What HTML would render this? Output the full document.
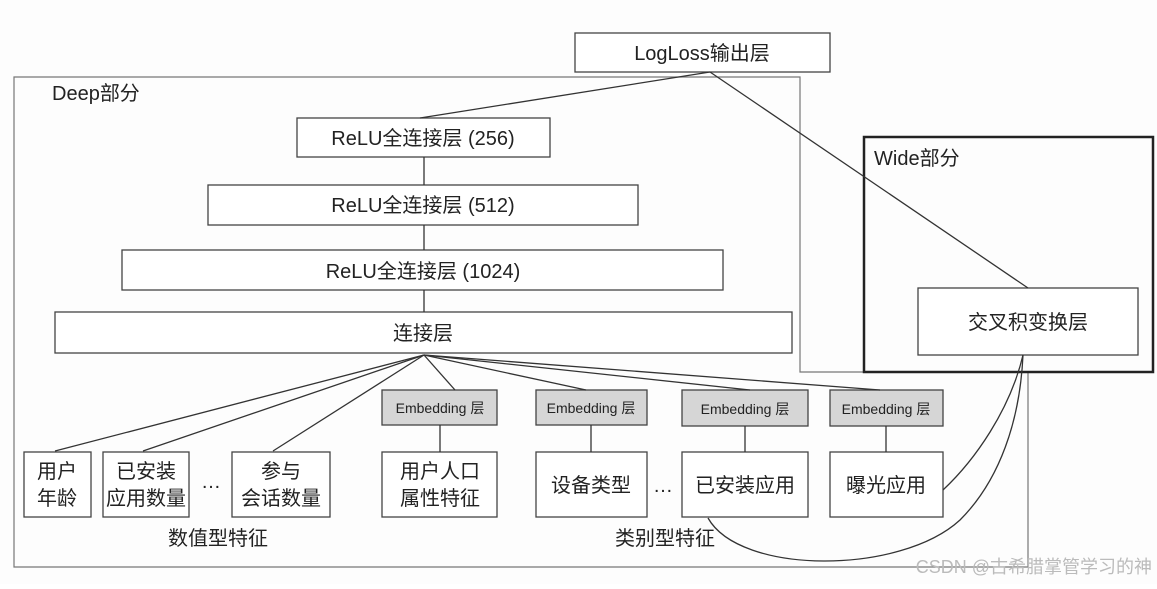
<!DOCTYPE html>
<html><head><meta charset="utf-8"><style>
body{margin:0;background:#fff;}
svg text{font-family:"Liberation Sans","Noto Sans CJK SC",sans-serif;fill:#222;}
</style></head><body>
<svg width="1157" height="584" viewBox="0 0 1157 584" xmlns="http://www.w3.org/2000/svg">
<rect width="1157" height="584" fill="#fdfdfd"/>
<g fill="none" stroke="#777" stroke-width="1.2">
<path d="M14 77 H800 V372 H1028 V567 H14 Z"/>
</g>
<rect x="864" y="137" width="289" height="235" fill="none" stroke="#222" stroke-width="2.5"/>
<g fill="#fff" stroke="#444" stroke-width="1.3">
<rect x="575" y="33" width="255" height="39"/>
<rect x="297" y="118" width="253" height="39"/>
<rect x="208" y="185" width="430" height="40"/>
<rect x="122" y="250" width="601" height="40"/>
<rect x="55" y="312" width="737" height="41"/>
<rect x="918" y="288" width="220" height="67"/>
<rect x="24" y="452" width="67" height="65"/>
<rect x="103" y="452" width="86" height="65"/>
<rect x="232" y="452" width="98" height="65"/>
<rect x="382" y="452" width="115" height="65"/>
<rect x="536" y="452" width="111" height="65"/>
<rect x="682" y="452" width="126" height="65"/>
<rect x="830" y="452" width="113" height="65"/>
</g>
<g fill="#d6d6d6" stroke="#444" stroke-width="1.3">
<rect x="382" y="390" width="115" height="35"/>
<rect x="536" y="390" width="111" height="35"/>
<rect x="682" y="390" width="126" height="36"/>
<rect x="830" y="390" width="113" height="36"/>
</g>
<g fill="none" stroke="#333" stroke-width="1.3">
<line x1="710" y1="72" x2="420" y2="118"/>
<line x1="710" y1="72" x2="1028" y2="288"/>
<line x1="424" y1="157" x2="424" y2="185"/>
<line x1="424" y1="225" x2="424" y2="250"/>
<line x1="424" y1="290" x2="424" y2="312"/>
<line x1="424" y1="355" x2="55" y2="451"/>
<line x1="424" y1="355" x2="143" y2="451"/>
<line x1="424" y1="355" x2="273" y2="451"/>
<line x1="424" y1="355" x2="455" y2="390"/>
<line x1="424" y1="355" x2="586" y2="390"/>
<line x1="424" y1="355" x2="750" y2="390"/>
<line x1="424" y1="355" x2="880" y2="390"/>
<line x1="440" y1="425" x2="440" y2="452"/>
<line x1="591" y1="425" x2="591" y2="452"/>
<line x1="745" y1="426" x2="745" y2="452"/>
<line x1="886" y1="426" x2="886" y2="452"/>
<path d="M708 518 C740 575 900 575 960 520 C1000 480 1020 420 1023 355"/>
<path d="M943 490 C975 460 1010 410 1023 355"/>
</g>
<g font-size="20" text-anchor="middle">
<text x="702" y="60">LogLoss输出层</text>
<text x="423" y="145">ReLU全连接层 (256)</text>
<text x="423" y="212">ReLU全连接层 (512)</text>
<text x="423" y="278">ReLU全连接层 (1024)</text>
<text x="423" y="340">连接层</text>
<text x="1028" y="329">交叉积变换层</text>
<text x="57" y="478">用户</text><text x="57" y="505">年龄</text>
<text x="146" y="478">已安装</text><text x="146" y="505">应用数量</text>
<text x="281" y="478">参与</text><text x="281" y="505">会话数量</text>
<text x="440" y="478">用户人口</text><text x="440" y="505">属性特征</text>
<text x="591" y="492">设备类型</text>
<text x="745" y="492">已安装应用</text>
<text x="886" y="492">曝光应用</text>
<text x="218" y="545">数值型特征</text>
<text x="665" y="545">类别型特征</text>
<text x="211" y="488">…</text>
<text x="663" y="492">…</text>
</g>
<text x="52" y="100" font-size="20">Deep部分</text>
<text x="874" y="165" font-size="20">Wide部分</text>
<g font-size="14" text-anchor="middle">
<text x="440" y="413">Embedding 层</text>
<text x="591" y="413">Embedding 层</text>
<text x="745" y="414">Embedding 层</text>
<text x="886" y="414">Embedding 层</text>
</g>
<text x="1152" y="573" font-size="18" text-anchor="end" style="fill:#bbb">CSDN @古希腊掌管学习的神</text>
</svg>
</body></html>
